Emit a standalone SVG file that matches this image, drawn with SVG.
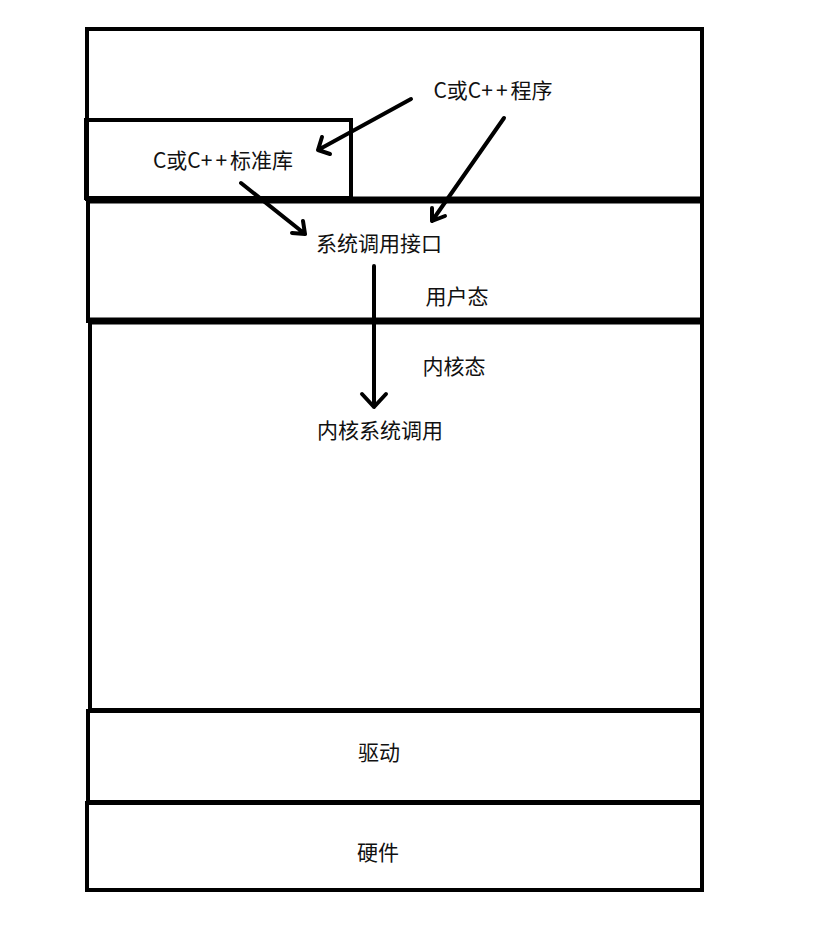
<svg xmlns="http://www.w3.org/2000/svg" width="831" height="927" viewBox="0 0 831 927">
<style>
.box{fill:none;stroke:#000;stroke-width:4}
.thick{stroke:#000;stroke-width:7}
.lbl{font-family:"Noto Sans CJK SC","Microsoft YaHei",sans-serif;font-size:21px;fill:#111;text-anchor:middle;dominant-baseline:central}
.pp{letter-spacing:3px}
.arr{fill:none;stroke:#000;stroke-width:4;stroke-linecap:round;stroke-linejoin:round}
</style>
<rect width="831" height="927" fill="#fff"/>
<g id="user-top">
<rect class="box" x="87" y="29" width="615" height="170"/>
<text class="lbl" x="493" y="89">C或C<tspan class="pp">++</tspan>程序</text>
</g>
<g id="stdlib">
<rect class="box" x="86" y="120" width="265" height="78"/>
<text class="lbl" x="223" y="159">C或C<tspan class="pp">++</tspan>标准库</text>
</g>
<g id="syscall-iface">
<rect class="box" x="88" y="201" width="614" height="120"/>
<line class="thick" x1="86" y1="200" x2="704" y2="200"/>
<text class="lbl" x="379" y="242">系统调用接口</text>
<text class="lbl" x="457" y="295">用户态</text>
</g>
<g id="kernel">
<rect class="box" x="90" y="322" width="612" height="388"/>
<line class="thick" x1="88" y1="321" x2="704" y2="321"/>
<text class="lbl" x="454" y="365">内核态</text>
<text class="lbl" x="380" y="429">内核系统调用</text>
</g>
<g id="driver">
<rect class="box" x="88" y="711" width="614" height="91"/>
<text class="lbl" x="379" y="751">驱动</text>
</g>
<g id="hardware">
<rect class="box" x="87" y="803" width="615" height="87"/>
<text class="lbl" x="378" y="851">硬件</text>
</g>
<g id="connectors">
<path class="arr" d="M411,99 L318,150 M322,137 L318,150 L330,154"/>
<path class="arr" d="M504,118 L432,221 M432,208 L432,221 L445,216"/>
<path class="arr" d="M241,183 L305,234 M292,233 L305,234 L303,221"/>
<path class="arr" d="M374,266 L374,407 M362,394 L374,407 L386,394"/>
</g>
</svg>
